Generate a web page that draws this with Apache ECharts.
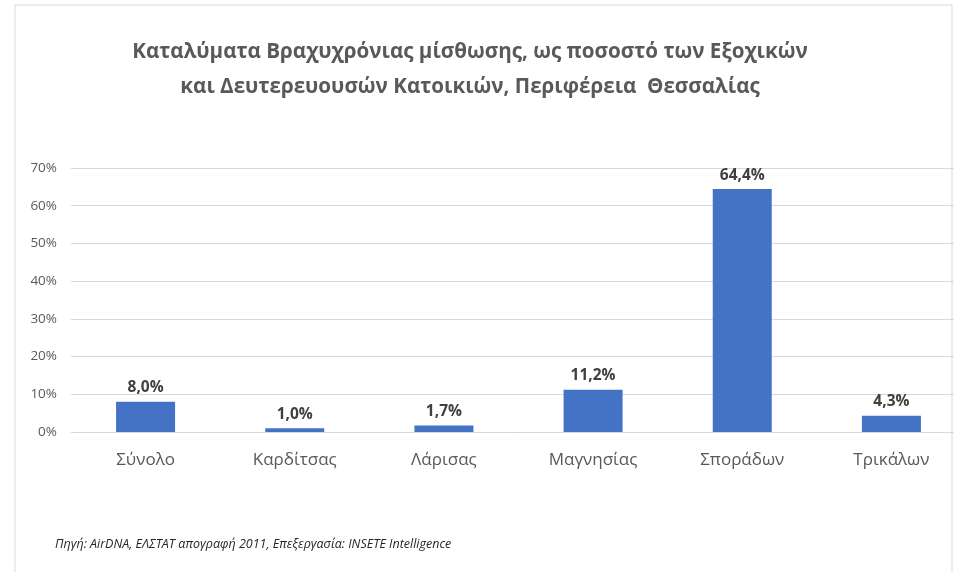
<!DOCTYPE html>
<html><head><meta charset="utf-8">
<script src="https://cdn.jsdelivr.net/npm/echarts@6/dist/echarts.min.js"></script>
<style>html,body{margin:0;padding:0;background:#fff}#c{width:954px;height:572px}</style>
</head><body><div id="c"></div>
<script>
var categories = ['Σύνολο','Καρδίτσας','Λάρισας','Μαγνησίας','Σποράδων','Τρικάλων'];
var values = [8.0, 1.0, 1.7, 11.2, 64.4, 4.3];
var titleLines = ['Καταλύματα Βραχυχρόνιας μίσθωσης, ως ποσοστό των Εξοχικών','και Δευτερευουσών Κατοικιών, Περιφέρεια  Θεσσαλίας'];
var sourceText = 'Πηγή: AirDNA, ΕΛΣΤΑΤ απογραφή 2011, Επεξεργασία: INSETE Intelligence';

var chart = echarts.init(document.getElementById('c'));
chart.setOption({
  animation: false,
  title: {
    text: titleLines.join('\n'), left: 465, top: 30, textAlign: 'center',
    textStyle: {fontFamily: 'Open Sans', fontWeight: 'bold', fontSize: 20.6, color: '#595959', lineHeight: 35}
  },
  graphic: [
    {type: 'rect', shape: {x: 15, y: 5, width: 937, height: 580}, style: {fill: 'none', stroke: '#d9d9d9', lineWidth: 1}},
    {type: 'text', left: 55, top: 538, style: {text: sourceText, font: 'italic 12.5px "Open Sans"', fill: '#262626'}}
  ],
  grid: {left: 71, right: -12, top: 168, bottom: 140, outerBoundsMode: 'none', containLabel: false},
  xAxis: {
    type: 'category', data: categories,
    axisLine: {lineStyle: {color: '#d9d9d9'}}, axisTick: {show: false},
    axisLabel: {fontFamily: 'Open Sans', fontSize: 17, color: '#595959', margin: 20}
  },
  yAxis: {
    type: 'value', min: 0, max: 70, interval: 10,
    axisLabel: {formatter: '{value}%', fontFamily: 'Open Sans', fontSize: 13.5, color: '#595959', margin: 14},
    splitLine: {lineStyle: {color: '#d9d9d9'}}, axisLine: {show: false}, axisTick: {show: false}
  },
  series: [{
    type: 'bar', data: values, barWidth: 59,
    itemStyle: {color: '#4472C4'},
    label: {show: true, position: 'top', distance: 6, fontFamily: 'Open Sans', fontWeight: 'bold', fontSize: 15.5, color: '#404040',
      formatter: function(p){ return p.value.toFixed(1).replace('.', ',') + '%'; }}
  }]
});
</script></body></html>
